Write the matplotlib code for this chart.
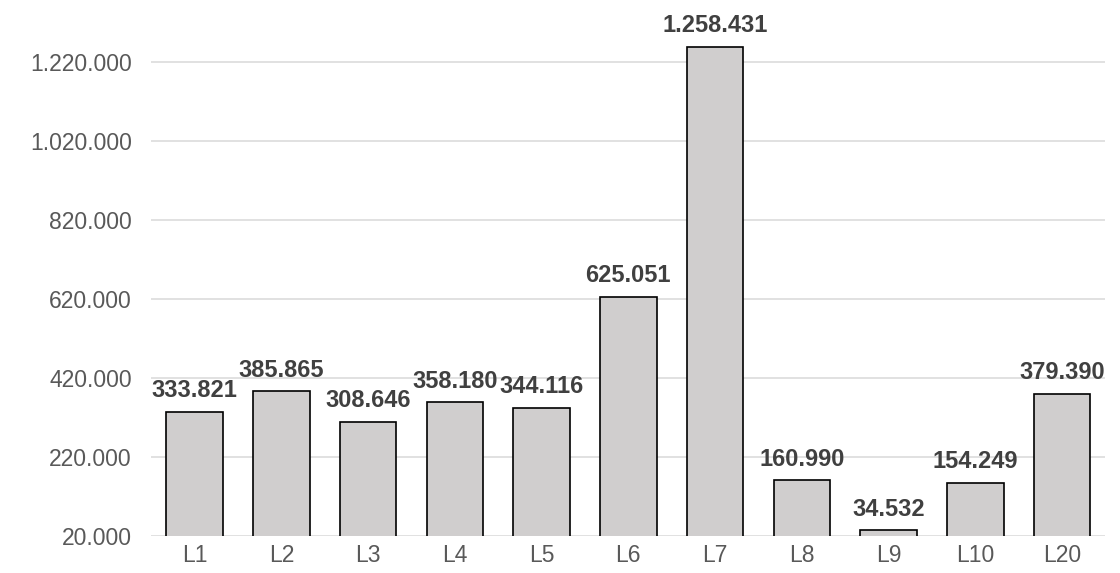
import matplotlib.pyplot as plt
from matplotlib.ticker import FuncFormatter

plt.rcParams['font.family'] = ['Liberation Sans', 'DejaVu Sans']

labels = ["L1", "L2", "L3", "L4", "L5", "L6", "L7", "L8", "L9", "L10", "L20"]
values = [333821, 385865, 308646, 358180, 344116, 625051, 1258431, 160990, 34532, 154249, 379390]
yticks = [20000, 220000, 420000, 620000, 820000, 1020000, 1220000]

def dots(v, pos=None):
    return f"{int(v):,}".replace(",", ".")

fig = plt.figure(figsize=(11.2, 5.73), dpi=100)
ax = fig.add_axes([0.135, 0.0646, 0.852, 0.896])

x = range(len(labels))
ax.bar(x, values, width=0.65, color="#D0CECE", edgecolor="black", linewidth=1.2, zorder=3)

for i, v in zip(x, values):
    ax.annotate(dots(v), (i, v), xytext=(0, 7), textcoords="offset points",
                ha="center", va="bottom", fontsize=17, fontweight="bold", color="#404040")

ax.set_ylim(20000, 1320000)
ax.set_xlim(-0.5, len(labels) - 0.5)
ax.set_yticks(yticks)
ax.yaxis.set_major_formatter(FuncFormatter(dots))
ax.set_xticks(list(x))
ax.set_xticklabels(labels)
ax.tick_params(axis="both", length=0, labelsize=16.5, labelcolor="#595959")
ax.tick_params(axis="y", pad=14)
ax.tick_params(axis="x", pad=6)
ax.grid(axis="y", color="#D9D9D9", linewidth=1.1, zorder=0)
for s in ax.spines.values():
    s.set_visible(False)

fig.savefig("out.png", dpi=100)
